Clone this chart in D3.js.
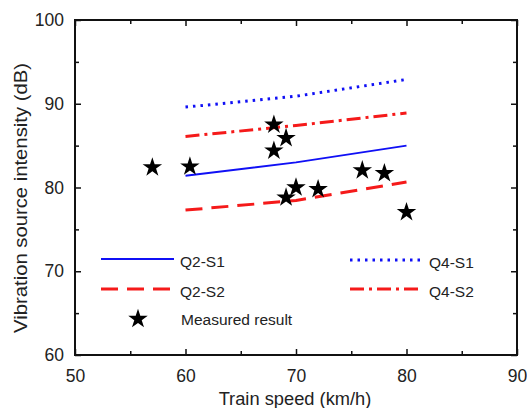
<!DOCTYPE html>
<html><head><meta charset="utf-8">
<script src="https://cdn.jsdelivr.net/npm/d3@7"></script>
<style>body{margin:0;background:#fff}svg{display:block}text{font-family:Arial,"Liberation Sans",sans-serif;fill:#222}</style>
</head><body><svg id="c" width="527" height="408"></svg>
<script>
const speeds = [60, 70, 80];
const q2s1 = [81.4, 83.0, 85.0];
const q2s2 = [77.3, 78.45, 80.65];
const q4s1 = [89.6, 90.9, 92.9];
const q4s2 = [86.1, 87.4, 88.9];
const measuredSpeed = [57, 60.4, 68, 68, 69.1, 69.1, 70, 72, 76, 78, 80];
const measuredValue = [82.4, 82.5, 87.5, 84.4, 85.9, 78.8, 80, 79.8, 82.05, 81.7, 77.05];
const xTicks = [50, 60, 70, 80, 90];
const yTicks = [60, 70, 80, 90, 100];

const svg = d3.select("#c");
const L = 75, R = 517, T = 20, B = 355;
const x = d3.scaleLinear().domain([50, 90]).range([L, R]);
const y = d3.scaleLinear().domain([60, 100]).range([B, T]);

const series = [
  {name: "Q2-S1", v: q2s1, color: "#1010f5", w: 2, dash: null},
  {name: "Q2-S2", v: q2s2, color: "#f51a1a", w: 3, dash: "17,9"},
  {name: "Q4-S1", v: q4s1, color: "#1010f5", w: 3, dash: "2.5,5"},
  {name: "Q4-S2", v: q4s2, color: "#f51a1a", w: 3, dash: "14,5,3,5"}
];
const line = d3.line().x(d => x(d[0])).y(d => y(d[1]));
series.forEach(s => {
  svg.append("path").datum(speeds.map((sp, i) => [sp, s.v[i]]))
    .attr("d", line).attr("fill", "none").attr("stroke", s.color)
    .attr("stroke-width", s.w).attr("stroke-dasharray", s.dash);
});

const star = d3.symbol().type(d3.symbolStar).size(118);
svg.selectAll(".st").data(measuredSpeed.map((s, i) => [s, measuredValue[i]])).enter()
  .append("path").attr("d", star).attr("fill", "#000")
  .attr("transform", d => `translate(${x(d[0])},${y(d[1])})`);

function axes() {
  const g = svg.append("g");
  g.append("g").attr("transform", `translate(0,${B})`)
    .call(d3.axisBottom(x).tickValues(xTicks).tickSize(-6).tickPadding(15).tickFormat(d3.format("d")));
  g.append("g").attr("transform", `translate(${L},0)`)
    .call(d3.axisLeft(y).tickValues(yTicks).tickSize(-6).tickPadding(11).tickFormat(d3.format("d")));
  g.append("g").attr("transform", `translate(0,${T})`).call(d3.axisTop(x).tickValues(xTicks).tickSize(-6).tickFormat(""));
  g.append("g").attr("transform", `translate(${R},0)`).call(d3.axisRight(y).tickValues(yTicks).tickSize(-6).tickFormat(""));
  const minorX = [55, 65, 75, 85], minorY = [65, 75, 85, 95];
  g.append("g").attr("transform", `translate(0,${B})`).call(d3.axisBottom(x).tickValues(minorX).tickSize(-4).tickFormat(""));
  g.append("g").attr("transform", `translate(0,${T})`).call(d3.axisTop(x).tickValues(minorX).tickSize(-4).tickFormat(""));
  g.append("g").attr("transform", `translate(${L},0)`).call(d3.axisLeft(y).tickValues(minorY).tickSize(-4).tickFormat(""));
  g.append("g").attr("transform", `translate(${R},0)`).call(d3.axisRight(y).tickValues(minorY).tickSize(-4).tickFormat(""));
  g.selectAll(".domain").remove();
  g.selectAll(".tick line").attr("stroke", "#111").attr("stroke-width", 1.5);
  g.selectAll(".tick text").attr("font-size", 17.5).attr("fill", "#222")
    .style("font-family", "Arial, 'Liberation Sans', sans-serif");
  svg.append("rect").attr("x", L).attr("y", T).attr("width", R - L).attr("height", B - T)
    .attr("fill", "none").attr("stroke", "#111").attr("stroke-width", 2);
}
axes();

svg.append("text").attr("x", (L + R) / 2 - 1).attr("y", 405).attr("text-anchor", "middle")
  .attr("font-size", 18.3).text("Train speed (km/h)");
svg.append("text").attr("transform", `translate(27,198) rotate(-90) scale(1.09,1)`)
  .attr("text-anchor", "middle").attr("font-size", 18.6).text("Vibration source intensity (dB)");

const leg = [
  {s: series[0], lx: 101, ly: 259},
  {s: series[1], lx: 101, ly: 289},
  {s: series[2], lx: 350, ly: 260},
  {s: series[3], lx: 350, ly: 289}
];
leg.forEach(d => {
  svg.append("line").attr("x1", d.lx).attr("x2", d.lx + 73).attr("y1", d.ly).attr("y2", d.ly)
    .attr("stroke", d.s.color).attr("stroke-width", d.s.w).attr("stroke-dasharray", d.s.dash);
  svg.append("text").attr("x", d.lx + 79).attr("y", d.ly + 8).attr("font-size", 15.5).text(d.s.name);
});
svg.append("path").attr("d", star).attr("fill", "#000").attr("transform", "translate(138,319)");
svg.append("text").attr("x", 181).attr("y", 325).attr("font-size", 15.5).text("Measured result");
</script></body></html>
